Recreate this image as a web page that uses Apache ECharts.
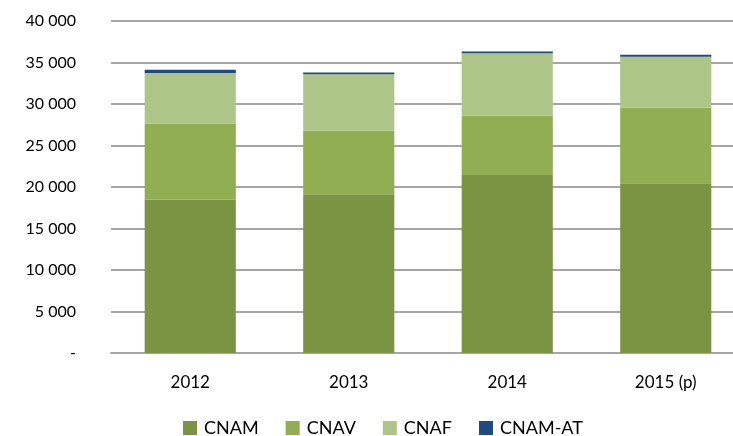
<!DOCTYPE html>
<html><head><meta charset="utf-8">
<script src="https://cdn.jsdelivr.net/npm/echarts@6/dist/echarts.min.js"></script>
<style>html,body{margin:0;padding:0;background:#fff}#c{width:733px;height:436px}</style>
</head><body><div id="c"></div>
<script>
const categories = ['2012', '2013', '2014', '2015 (p)'];
const cnam   = [18500, 19130, 21450, 20450];
const cnav   = [9150, 7650, 7130, 9100];
const cnaf   = [6080, 6810, 7540, 6130];
const cnamAt = [400, 200, 200, 250];
const seriesNames = ['CNAM', 'CNAV', 'CNAF', 'CNAM-AT'];
const colors = ['#7A9443', '#91AE53', '#ADC688', '#1F4A7D'];

const font = 'Lato, "Liberation Sans", sans-serif';
const chart = echarts.init(document.getElementById('c'));
const mk = (name, data, i) => ({
  name, type: 'bar', stack: 's', data, barCategoryGap: '42.5%',
  itemStyle: { color: colors[i] }
});
chart.setOption({
  animation: false,
  color: colors,
  grid: { left: 111, width: 634, top: 21, bottom: 83, containLabel: false, outerBoundsMode: 'none' },
  legend: {
    top: 419, left: 183, padding: 0, itemWidth: 14, itemHeight: 14, itemGap: 27,
    icon: 'rect',
    textStyle: { fontFamily: font, fontSize: 18, lineHeight: 18, color: '#000', padding: [0, 0, 0, 2] },
    data: seriesNames
  },
  xAxis: {
    type: 'category', data: categories,
    axisLine: { lineStyle: { color: '#A6A6A6', width: 2 } },
    axisTick: { show: false },
    axisLabel: { fontFamily: font, fontSize: 17, color: '#000', margin: 21 }
  },
  yAxis: {
    type: 'value', min: 0, max: 40000, interval: 5000,
    axisLine: { show: false }, axisTick: { show: false },
    splitLine: { lineStyle: { color: '#A6A6A6', width: 2 } },
    axisLabel: {
      fontFamily: font, fontSize: 16, color: '#000', margin: 35,
      formatter: v => v === 0 ? '-' : String(v).replace(/\B(?=(\d{3})+(?!\d))/g, ' ')
    }
  },
  series: [mk('CNAM', cnam, 0), mk('CNAV', cnav, 1), mk('CNAF', cnaf, 2), mk('CNAM-AT', cnamAt, 3)]
});
</script></body></html>
